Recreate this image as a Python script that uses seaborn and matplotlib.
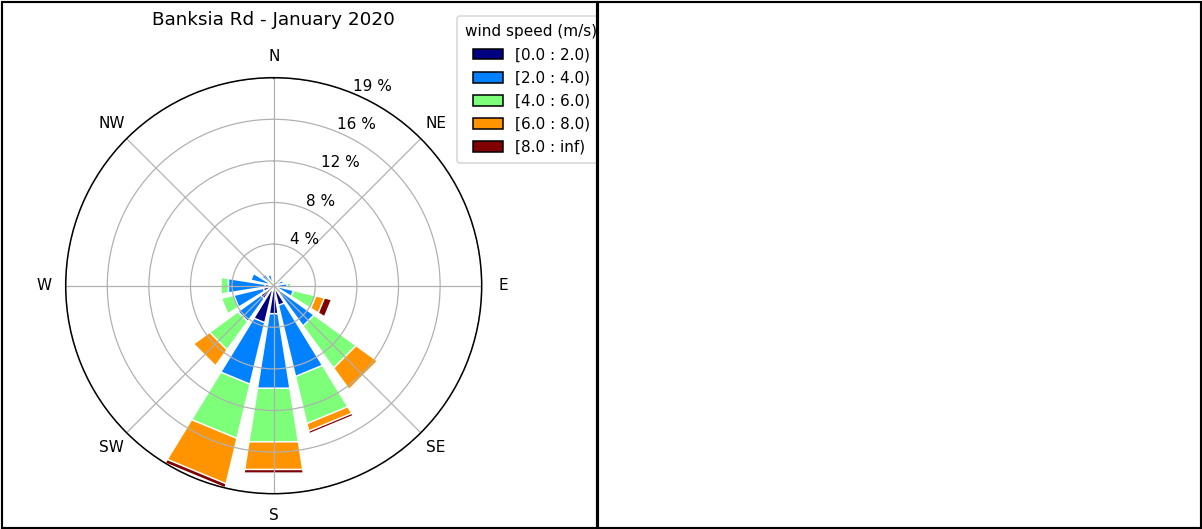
import numpy as np
import pandas as pd
import matplotlib
matplotlib.use("Agg")
import matplotlib.pyplot as plt
from matplotlib.patches import Rectangle
import seaborn as sns

# ---------------- data ----------------
directions = ["N", "NNE", "NE", "ENE", "E", "ESE", "SE", "SSE",
              "S", "SSW", "SW", "WSW", "W", "WNW", "NW", "NNW"]
direction_deg = [0, 22.5, 45, 67.5, 90, 112.5, 135, 157.5,
                 180, 202.5, 225, 247.5, 270, 292.5, 315, 337.5]

speed_labels = ["[0.0 : 2.0)", "[2.0 : 4.0)", "[4.0 : 6.0)", "[6.0 : 8.0)", "[8.0 : inf)"]

# frequency (%) of each speed bin per direction
freq_0_2 = [0.15, 0.10, 0.10, 0.20, 0.30, 0.40, 0.80, 1.89, 2.64, 3.55, 1.50, 1.00, 0.80, 0.50, 0.40, 0.20]
freq_2_4 = [0.15, 0.15, 0.10, 0.75, 0.95, 1.50, 3.85, 6.82, 7.04, 5.90, 2.62, 2.83, 3.47, 1.70, 0.95, 0.87]
freq_4_6 = [0.00, 0.00, 0.00, 0.00, 0.35, 2.15, 4.85, 4.52, 5.06, 5.20, 3.27, 1.20, 0.70, 0.00, 0.00, 0.00]
freq_6_8 = [0.00, 0.00, 0.00, 0.00, 0.00, 0.82, 2.47, 0.72, 2.61, 4.35, 1.85, 0.00, 0.00, 0.00, 0.00, 0.00]
freq_8_inf = [0.00, 0.00, 0.00, 0.00, 0.12, 0.69, 0.05, 0.26, 0.35, 0.40, 0.00, 0.00, 0.00, 0.00, 0.00, 0.00]

title_text = "Banksia Rd - January 2020"
legend_title = "wind speed (m/s)"
compass_labels = ["N", "NE", "E", "SE", "S", "SW", "W", "NW"]

# ---------------- figure ----------------
W, H, DPI = 1202, 529, 110
plt.rcParams["font.family"] = ["DejaVu Sans"]
fig = plt.figure(figsize=(W / DPI, H / DPI), dpi=DPI)

cx, cy, R = 273.7, 285.7, 208.0
ax = fig.add_axes([(cx - R) / W, (H - cy - R) / H, 2 * R / W, 2 * R / H],
                  projection="polar")
ax.set_theta_zero_location("N")
ax.set_theta_direction(-1)

colors = [matplotlib.colormaps["jet"](v) for v in np.linspace(0, 1, 5)]
bins = [freq_0_2, freq_2_4, freq_4_6, freq_6_8, freq_8_inf]
cum = np.cumsum(np.array(bins), axis=0)

df = pd.DataFrame({"theta": np.deg2rad(direction_deg)})
for i in range(5):
    df[f"cum{i}"] = cum[i]

# draw from the outermost (total) layer down to the innermost
for i in range(4, -1, -1):
    sns.barplot(data=df, x="theta", y=f"cum{i}", native_scale=True, orient="x",
                color=colors[i], saturation=1, edgecolor="white", linewidth=1.0,
                errorbar=None, ax=ax, zorder=2)

for p in ax.patches:
    try:
        p.get_path()._interpolation_steps = 1
    except Exception:
        pass

ax.set_xlabel("")
ax.set_ylabel("")
ax.set_xlim(0, 2 * np.pi)
rmax = cum[-1].max()
ax.set_ylim(0, rmax)
radii = np.linspace(0, rmax, 6)[1:]
ax.set_rgrids(radii, labels=[f"{r:.0f} %" for r in radii], angle=22.5, fontsize=10)
ax.set_thetagrids(np.arange(0, 360, 45), labels=compass_labels, fontsize=10)
ax.set_axisbelow(False)
ax.grid(True, color="#b0b0b0", linewidth=0.8)
ax.spines["polar"].set_linewidth(1.0)
ax.spines["polar"].set_color("black")
ax.spines["polar"].set_zorder(4)

ax.set_title(title_text, fontsize=12, y=1.105)

handles = [Rectangle((0, 0), 0.2, 0.2, facecolor=c, edgecolor="black", linewidth=1.0) for c in colors]
leg = ax.legend(handles, speed_labels, title=legend_title, loc="upper left",
                bbox_to_anchor=(457 / W, 1 - 16 / H), bbox_transform=fig.transFigure,
                borderaxespad=0, fontsize=10, title_fontsize=10,
                borderpad=0.55, labelspacing=0.53)
leg.set_zorder(5)

# panel frames (right panel is empty and covers legend overflow)
fig.add_artist(Rectangle((598 / W, 1.5 / H), (W - 599.5) / W, (H - 3) / H,
                         transform=fig.transFigure, facecolor="white",
                         edgecolor="black", linewidth=1.4, zorder=10))
fig.add_artist(Rectangle((1.5 / W, 1.5 / H), (597 - 1.5) / W, (H - 3) / H,
                         transform=fig.transFigure, fill=False,
                         edgecolor="black", linewidth=1.4, zorder=10))

fig.savefig("out.png", dpi=DPI)
